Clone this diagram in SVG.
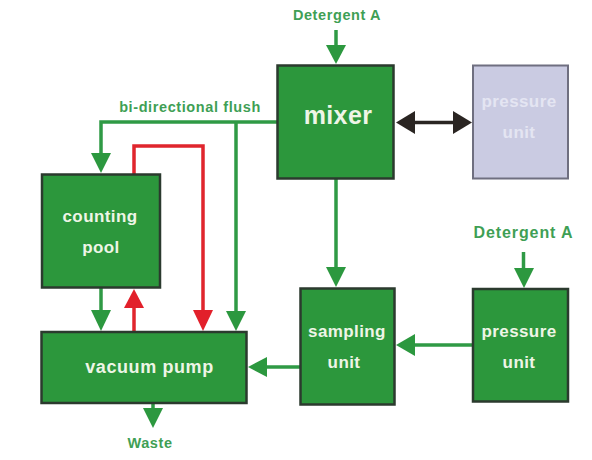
<svg xmlns="http://www.w3.org/2000/svg" width="592" height="460" viewBox="0 0 592 460">
<style>
.box{fill:#2c973c;stroke:#2b3a2e;stroke-width:2.5}
.gray{fill:#cacbe2;stroke:#6f6f80;stroke-width:2}
text{font-family:"Liberation Sans",Arial,sans-serif;font-weight:bold;text-anchor:middle}
.w{fill:#eef5e6;font-size:17px;letter-spacing:.4px}
.wg{fill:#e4e5f2}
.g{fill:#3f9f55;font-size:14.500px;letter-spacing:.6px}
.l{fill:none;stroke-width:3.500}
.gl{stroke:#2f9a45}
.rl{stroke:#e0252d}
.kl{stroke:#2a2522}
.gh{fill:#2c983f}
.rh{fill:#e2202b}
.kh{fill:#2a2522}
</style>
<rect width="592" height="460" fill="#fff"/>
<g id="connectors">
<path class="l gl" d="M336 30V46"/><polygon class="gh" points="326,45 346,45 336,64"/>
<path class="l gl" d="M277 122H101V155"/><polygon class="gh" points="91,153 111,153 101,173"/>
<path class="l gl" d="M236 122V312"/><polygon class="gh" points="226,311 246,311 236,331"/>
<path class="l rl" d="M134 174V146H203V312"/><polygon class="rh" points="193,310 213,310 203,331"/>
<path class="l gl" d="M101 288V312"/><polygon class="gh" points="91,310 111,310 101,331"/>
<path class="l rl" d="M134 331V307"/><polygon class="rh" points="124,308 144,308 134,289"/>
<path class="l gl" d="M153 403V410"/><polygon class="gh" points="143,408 163,408 153,428"/>
<path class="l gl" d="M300 367H266"/><polygon class="gh" points="267,357 267,377 248,367"/>
<path class="l gl" d="M473 345H414"/><polygon class="gh" points="415,334 415,356 396,345"/>
<path class="l gl" d="M523.500 252V270"/><polygon class="gh" points="514,268 534,268 524,288"/>
<path class="l gl" d="M336 179V269"/><polygon class="gh" points="326,267 346,267 336,287"/>
<path class="l kl" d="M414 122.500H454"/><polygon class="kh" points="415,111 415,134 396,122.500"/><polygon class="kh" points="453,111 453,134 472,122.500"/>
</g>
<g id="mixer"><rect class="box" x="277.500" y="65.500" width="116" height="113"/><text class="w" x="338" y="124" style="font-size:25px">mixer</text></g>
<g id="pressure-unit-gray"><rect class="gray" x="473" y="65.500" width="95" height="113"/><text class="w wg" x="519" y="107">pressure</text><text class="w wg" x="519" y="138">unit</text></g>
<g id="counting-pool"><rect class="box" x="42" y="174.500" width="118" height="113"/><text class="w" x="100" y="221.500">counting</text><text class="w" x="101" y="253">pool</text></g>
<g id="vacuum-pump"><rect class="box" x="41.500" y="332" width="205" height="71"/><text class="w" x="149.500" y="373" style="font-size:18px;letter-spacing:.6px">vacuum pump</text></g>
<g id="sampling-unit"><rect class="box" x="300.500" y="288.500" width="94" height="116"/><text class="w" x="347" y="337">sampling</text><text class="w" x="344" y="368">unit</text></g>
<g id="pressure-unit"><rect class="box" x="473" y="289" width="95" height="112.500"/><text class="w" x="519" y="337">pressure</text><text class="w" x="519" y="368">unit</text></g>
<g id="labels">
<text class="g" x="337" y="20">Detergent A</text>
<text class="g" x="190" y="112">bi-directional flush</text>
<text class="g" x="523.500" y="238" style="font-size:16px;letter-spacing:.9px">Detergent A</text>
<text class="g" x="150" y="448">Waste</text>
</g>
</svg>
